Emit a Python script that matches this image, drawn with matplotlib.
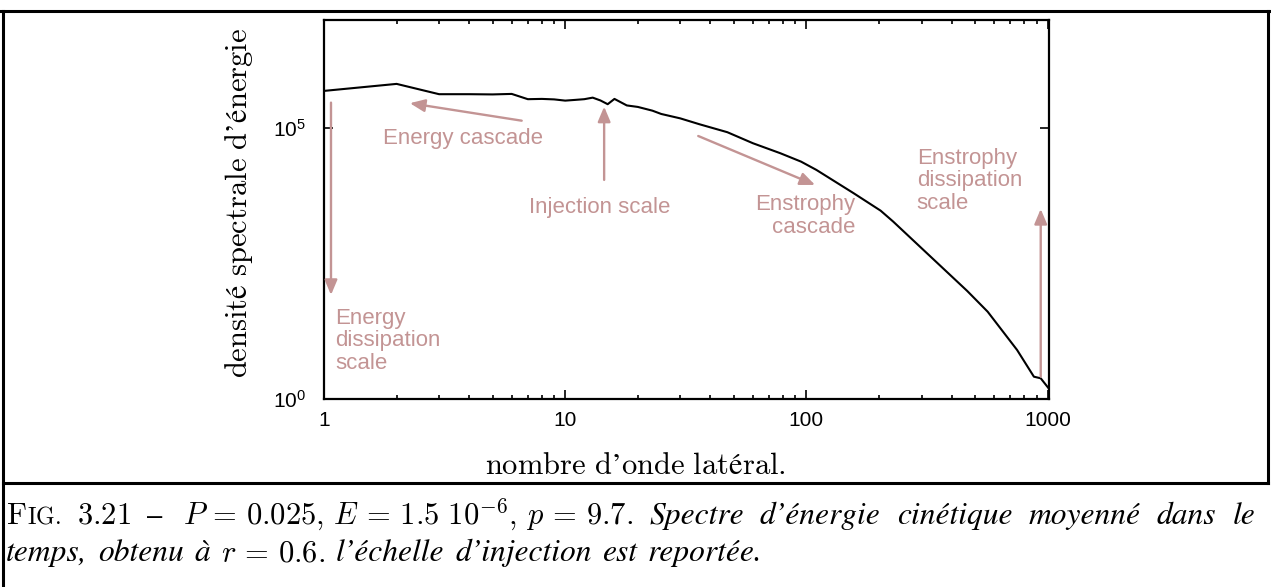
import matplotlib
matplotlib.use("Agg")
import matplotlib.pyplot as plt
from matplotlib.ticker import FixedLocator, FixedFormatter, NullFormatter, LogLocator, NullLocator
from matplotlib.lines import Line2D

# ---------------- data ----------------
wavenumber = [1, 2, 3, 4, 5, 6, 7, 8, 9, 10, 11, 12, 13, 14, 15, 16,
              18, 20, 23, 25, 30, 36, 47, 60, 78, 95, 110, 157, 203, 229,
              316, 464, 564, 747, 877, 936, 1010]
energy = [4.82e5, 6.49e5, 4.19e5, 4.19e5, 4.15e5, 4.24e5, 3.39e5, 3.43e5,
          3.36e5, 3.19e5, 3.29e5, 3.39e5, 3.62e5, 3.21e5, 2.74e5, 3.43e5,
          2.60e5, 2.44e5, 2.08e5, 1.81e5, 1.50e5, 1.17e5, 8.34e4, 5.22e4,
          3.41e4, 2.39e4, 1.68e4, 6.24e3, 2.98e3, 1.87e3, 488, 98.4,
          40.8, 8.02, 2.58, 2.41, 1.57]
xtick_values = [1, 10, 100, 1000]
xtick_labels = ["1", "10", "100", "1000"]
ytick_values = [1, 1e5]
ytick_labels = [r"$\mathrm{10^{0}}$", r"$\mathrm{10^{5}}$"]

xlabel = r"$\mathrm{nombre\ d’onde\ latéral.}$"
ylabel = r"$\mathrm{densité\ spectrale\ d’énergie}$"

plt.rcParams["font.family"] = ["Liberation Sans", "DejaVu Sans"]
plt.rcParams["mathtext.fontset"] = "custom"
plt.rcParams["mathtext.rm"] = "Liberation Sans"
plt.rcParams["mathtext.it"] = "Liberation Sans:italic"

W, H = 1271, 587
fig = plt.figure(figsize=(W / 100, H / 100), dpi=100)


def fx(px):
    return px / W


def fy(py):
    return 1 - py / H


ax = fig.add_axes([fx(324), fy(399), fx(1049) - fx(324), fy(19.5) - fy(399)])
ax.plot(wavenumber, energy, color="black", lw=1.5, solid_joinstyle="round")
ax.set_xscale("log")
ax.set_yscale("log")
ax.set_xlim(1, 1013)
ax.set_ylim(1, 1e7)

ax.xaxis.set_major_locator(FixedLocator(xtick_values))
ax.xaxis.set_major_formatter(FixedFormatter(xtick_labels))
ax.xaxis.set_minor_locator(LogLocator(base=10, subs=range(2, 10), numticks=20))
ax.xaxis.set_minor_formatter(NullFormatter())
ax.yaxis.set_major_locator(FixedLocator(ytick_values))
ax.yaxis.set_major_formatter(FixedFormatter(ytick_labels))
ax.yaxis.set_minor_locator(NullLocator())

ax.tick_params(which="both", direction="in", top=True, right=True, width=1.2,
               labelsize=15, colors="black")
ax.tick_params(which="major", length=6.5)
ax.tick_params(which="minor", length=3.2)
ax.tick_params(axis="x", pad=9)
ax.tick_params(axis="y", pad=13)
for sp in ax.spines.values():
    sp.set_linewidth(1.6)

# ---------------- annotations ----------------
C = "#c39494"
arrow_kw = dict(arrowstyle="-|>,head_length=0.9,head_width=0.38", mutation_scale=10,
                color=C, lw=1.7, shrinkA=0, shrinkB=0)


def arrow(tip, tail):
    ax.annotate("", xy=tip, xytext=tail, arrowprops=arrow_kw)


arrow((2.27, 2.86e5), (6.60, 1.36e5))          # energy cascade
arrow((1.069, 83), (1.069, 2.93e5))            # energy dissipation scale
arrow((14.5, 2.47e5), (14.5, 1.1e4))           # injection scale
arrow((108.6, 8.88e3), (35.6, 7.1e4))          # enstrophy cascade
arrow((936, 3.2e3), (936, 2.58))               # enstrophy dissipation scale

# multi-line texts: va="baseline" anchors the last line's baseline
tkw = dict(color=C, fontsize=16, va="baseline", linespacing=1.1)
ax.text(1.757, 5.07e4, "Energy cascade", ha="left", **tkw)
ax.text(1.11, 3.58, "Energy\ndissipation\nscale", ha="left", **tkw)
ax.text(13.9, 2.7e3, "Injection scale", ha="center", **tkw)
ax.text(159, 1170, "Enstrophy\ncascade", ha="right", multialignment="right", **tkw)
ax.text(286.6, 3203, "Enstrophy\ndissipation\nscale", ha="left", **tkw)

# ---------------- axis labels (serif, Computer Modern) ----------------
SER = 22
fig.text(fx(635), fy(474), xlabel, fontsize=SER, math_fontfamily="cm",
         ha="center", va="baseline")
fig.text(fx(247), fy(203), ylabel, fontsize=SER, math_fontfamily="cm",
         rotation=90, rotation_mode="anchor", ha="center", va="baseline")

# ---------------- frame ----------------
for (x0, y0, x1, y1) in [(0, 10.5, W, 10.5), (3, 10.5, 3, H), (1268, 10.5, 1268, 483),
                         (3, 483, 1268, 483)]:
    fig.add_artist(Line2D([fx(x0), fx(x1)], [fy(y0), fy(y1)], color="black", lw=2.2,
                          transform=fig.transFigure))

# ---------------- caption ----------------
renderer = fig.canvas.get_renderer()
S = 22
EM = S * 100 / 72
CM = dict(fontsize=S, math_fontfamily="cm")
SC = dict(fontsize=S * 0.78, math_fontfamily="cm")
IT = dict(fontsize=S * 1.03, family="STIXGeneral", style="italic")
UP = dict(fontsize=S, family="STIXGeneral")

line1 = [(r"$\mathrm{F}$", CM, 0),
         (r"$\mathrm{IG.}$", SC, 0),
         (r"$\mathrm{3.21}$", CM, 0.35),
         ("–", UP, 0.35),
         (r"$P\,=\,0.025,\,E\,=\,1.5\ 10^{-6},\,p\,=\,9.7.$", CM, 0.5),
         ("Spectre", IT, 0.35),
         ("d’énergie", IT, 0.35),
         ("cinétique", IT, 0.35),
         ("moyenné", IT, 0.35),
         ("dans", IT, 0.35),
         ("le", IT, 0.35)]
line2 = [("temps,", IT, 0),
         ("obtenu", IT, 0.35),
         ("à", IT, 0.35),
         (r"$r\,=\,0.6.$", CM, 0.35),
         ("l’échelle", IT, 0.35),
         ("d’injection", IT, 0.35),
         ("est", IT, 0.35),
         ("reportée.", IT, 0.35)]


def layout_line(items, x0, base, x1=None):
    texts, widths = [], []
    for s, kw, sp in items:
        t = fig.text(0, fy(base), s, ha="left", va="baseline", **kw)
        widths.append(t.get_window_extent(renderer).width)
        texts.append(t)
    nsp = sum(1 for _, _, sp in items if sp > 0)
    natural = sum(widths) + sum(sp * EM for _, _, sp in items)
    extra = 0 if x1 is None else (x1 - x0 - natural) / max(nsp, 1)
    x = x0
    for (s, kw, sp), t, w in zip(items, texts, widths):
        if sp > 0:
            x += sp * EM + extra
        t.set_x(fx(x))
        x += w


layout_line(line1, 6, 524, x1=1255)
layout_line(line2, 6, 561)

fig.savefig("out.png", dpi=100)
